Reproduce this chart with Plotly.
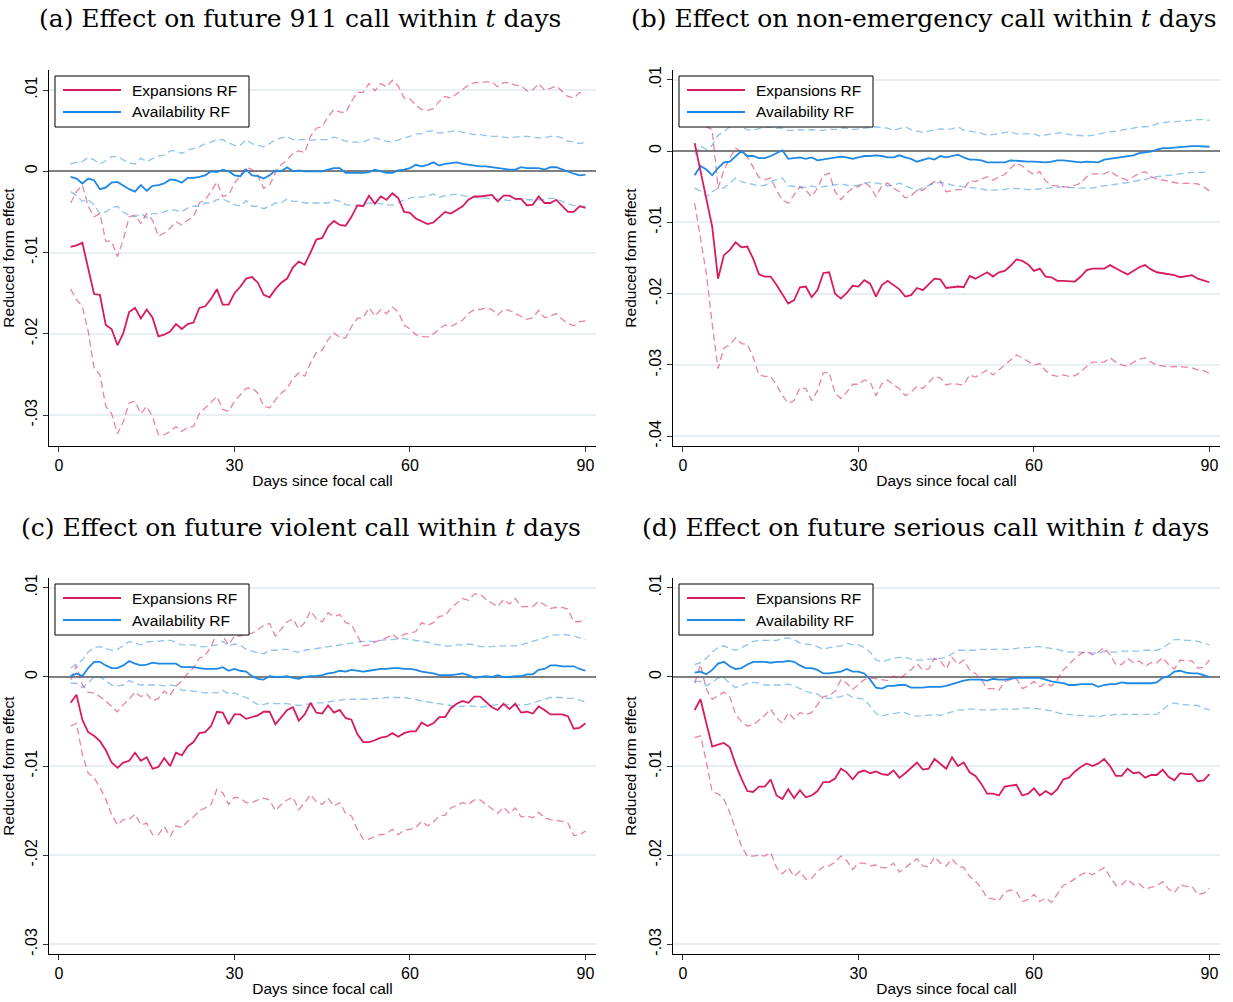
import plotly.graph_objects as go

# Horizon in days after the focal call (one estimate per day)
days = list(range(2, 91))
UNIT = 0.01  # all series below are written in hundredths

# ---------- (a) future 911 call ----------
a_exp = [-0.93, -0.91, -0.88, -1.21, -1.51, -1.52, -1.89, -1.94, -2.14, -1.99,
         -1.73, -1.68, -1.81, -1.70, -1.80, -2.03, -2.01, -1.97, -1.88, -1.94,
         -1.88, -1.86, -1.68, -1.66, -1.57, -1.45, -1.64, -1.64, -1.50, -1.42,
         -1.32, -1.30, -1.37, -1.52, -1.55, -1.45, -1.37, -1.32, -1.18, -1.11,
         -1.15, -1.00, -0.84, -0.82, -0.68, -0.61, -0.66, -0.67, -0.56, -0.42,
         -0.43, -0.30, -0.40, -0.31, -0.35, -0.27, -0.33, -0.50, -0.51, -0.58,
         -0.62, -0.65, -0.63, -0.56, -0.50, -0.52, -0.47, -0.43, -0.35, -0.31,
         -0.31, -0.30, -0.29, -0.37, -0.30, -0.30, -0.34, -0.34, -0.42, -0.41,
         -0.31, -0.39, -0.39, -0.35, -0.43, -0.50, -0.50, -0.43, -0.45]
a_exp_hi = [-0.39, -0.25, -0.17, -0.43, -0.56, -0.52, -0.86, -0.86, -1.05, -0.84,
            -0.56, -0.54, -0.64, -0.52, -0.60, -0.80, -0.76, -0.70, -0.62, -0.66,
            -0.60, -0.56, -0.39, -0.35, -0.25, -0.13, -0.31, -0.29, -0.15, -0.05,
            0.05, 0.02, -0.05, -0.21, -0.17, -0.02, 0.08, 0.14, 0.22, 0.25,
            0.23, 0.43, 0.53, 0.55, 0.67, 0.76, 0.73, 0.72, 0.86, 0.97,
            0.97, 1.08, 0.99, 1.08, 1.04, 1.12, 1.05, 0.90, 0.89, 0.81,
            0.76, 0.75, 0.77, 0.86, 0.92, 0.90, 0.95, 1.00, 1.06, 1.09,
            1.09, 1.10, 1.10, 1.04, 1.09, 1.09, 1.06, 1.05, 0.99, 1.00,
            1.08, 1.00, 1.02, 1.05, 0.98, 0.92, 0.90, 0.97, 0.96]
a_exp_lo = [-1.45, -1.58, -1.66, -1.97, -2.42, -2.50, -2.89, -2.98, -3.23, -3.08,
            -2.85, -2.83, -2.98, -2.89, -3.02, -3.24, -3.24, -3.20, -3.14, -3.20,
            -3.15, -3.14, -2.98, -2.91, -2.85, -2.77, -2.93, -2.95, -2.83, -2.75,
            -2.67, -2.66, -2.73, -2.89, -2.91, -2.81, -2.73, -2.67, -2.55, -2.48,
            -2.52, -2.36, -2.23, -2.20, -2.07, -1.99, -2.04, -2.05, -1.91, -1.81,
            -1.80, -1.68, -1.78, -1.70, -1.75, -1.67, -1.73, -1.89, -1.94, -2.01,
            -2.03, -2.04, -2.00, -1.94, -1.89, -1.91, -1.87, -1.83, -1.75, -1.70,
            -1.70, -1.68, -1.70, -1.77, -1.70, -1.71, -1.75, -1.78, -1.82, -1.80,
            -1.71, -1.80, -1.78, -1.75, -1.82, -1.87, -1.90, -1.85, -1.84]
a_avl = [-0.07, -0.09, -0.15, -0.09, -0.11, -0.22, -0.20, -0.14, -0.13, -0.18,
         -0.22, -0.25, -0.17, -0.24, -0.18, -0.17, -0.15, -0.10, -0.11, -0.14,
         -0.08, -0.08, -0.07, -0.05, 0.00, -0.01, 0.02, 0.00, -0.05, -0.06,
         0.02, -0.05, -0.06, -0.09, -0.05, 0.01, 0.00, 0.05, 0.00, 0.01,
         0.00, 0.00, 0.00, 0.00, 0.02, 0.04, 0.04, -0.02, -0.02, -0.02,
         -0.02, -0.01, 0.02, 0.00, -0.02, -0.02, 0.01, 0.02, 0.04, 0.08,
         0.06, 0.08, 0.11, 0.07, 0.09, 0.10, 0.11, 0.09, 0.08, 0.07,
         0.06, 0.06, 0.05, 0.04, 0.03, 0.02, 0.02, 0.05, 0.04, 0.04,
         0.04, 0.02, 0.05, 0.05, 0.02, -0.01, -0.03, -0.05, -0.04]
a_avl_hi = [0.09, 0.11, 0.12, 0.17, 0.14, 0.09, 0.13, 0.18, 0.18, 0.14,
            0.10, 0.09, 0.16, 0.12, 0.16, 0.19, 0.20, 0.25, 0.25, 0.22,
            0.26, 0.28, 0.30, 0.34, 0.36, 0.39, 0.39, 0.35, 0.32, 0.32,
            0.39, 0.34, 0.32, 0.30, 0.34, 0.39, 0.41, 0.43, 0.39, 0.39,
            0.39, 0.38, 0.39, 0.39, 0.39, 0.42, 0.40, 0.37, 0.36, 0.36,
            0.36, 0.39, 0.41, 0.39, 0.37, 0.36, 0.39, 0.41, 0.43, 0.46,
            0.46, 0.49, 0.50, 0.47, 0.48, 0.49, 0.50, 0.48, 0.47, 0.45,
            0.45, 0.44, 0.43, 0.43, 0.42, 0.41, 0.42, 0.43, 0.43, 0.42,
            0.41, 0.41, 0.43, 0.43, 0.41, 0.37, 0.36, 0.34, 0.36]
a_avl_lo = [-0.25, -0.30, -0.37, -0.35, -0.41, -0.52, -0.50, -0.45, -0.43, -0.50,
            -0.54, -0.56, -0.52, -0.57, -0.52, -0.52, -0.50, -0.47, -0.48, -0.50,
            -0.45, -0.43, -0.43, -0.39, -0.39, -0.35, -0.34, -0.37, -0.41, -0.43,
            -0.36, -0.43, -0.43, -0.46, -0.43, -0.39, -0.39, -0.34, -0.37, -0.37,
            -0.39, -0.39, -0.39, -0.39, -0.39, -0.35, -0.37, -0.41, -0.42, -0.42,
            -0.41, -0.39, -0.39, -0.40, -0.41, -0.42, -0.39, -0.35, -0.33, -0.31,
            -0.32, -0.30, -0.28, -0.32, -0.30, -0.29, -0.28, -0.30, -0.31, -0.32,
            -0.33, -0.33, -0.34, -0.34, -0.35, -0.36, -0.35, -0.34, -0.35, -0.35,
            -0.35, -0.35, -0.33, -0.34, -0.37, -0.40, -0.42, -0.43, -0.43]

# ---------- (b) non-emergency call ----------
b_exp = [0.11, -0.27, -0.69, -1.06, -1.79, -1.46, -1.39, -1.28, -1.35, -1.34,
         -1.51, -1.73, -1.76, -1.76, -1.88, -2.01, -2.14, -2.09, -1.91, -1.90,
         -2.05, -1.95, -1.71, -1.70, -2.00, -2.07, -1.99, -1.89, -1.90, -1.81,
         -1.86, -2.04, -1.88, -1.82, -1.88, -1.94, -2.04, -2.02, -1.92, -1.95,
         -1.87, -1.79, -1.80, -1.92, -1.91, -1.90, -1.91, -1.75, -1.79, -1.75,
         -1.70, -1.76, -1.70, -1.68, -1.61, -1.52, -1.54, -1.59, -1.68, -1.65,
         -1.76, -1.77, -1.82, -1.82, -1.82, -1.83, -1.76, -1.67, -1.65, -1.65,
         -1.65, -1.60, -1.65, -1.69, -1.73, -1.68, -1.63, -1.60, -1.66, -1.70,
         -1.71, -1.73, -1.74, -1.77, -1.76, -1.74, -1.79, -1.82, -1.84]
b_exp_hi = [0.95, 0.66, 0.34, 0.30, -0.52, -0.27, -0.10, 0.04, -0.01, -0.08,
            -0.22, -0.37, -0.40, -0.38, -0.55, -0.69, -0.73, -0.62, -0.50, -0.55,
            -0.64, -0.52, -0.34, -0.31, -0.57, -0.68, -0.59, -0.52, -0.50, -0.44,
            -0.50, -0.64, -0.49, -0.45, -0.52, -0.57, -0.66, -0.63, -0.55, -0.55,
            -0.48, -0.43, -0.42, -0.57, -0.55, -0.54, -0.54, -0.41, -0.43, -0.40,
            -0.36, -0.41, -0.36, -0.33, -0.24, -0.17, -0.21, -0.28, -0.33, -0.29,
            -0.42, -0.48, -0.49, -0.50, -0.51, -0.48, -0.45, -0.36, -0.32, -0.32,
            -0.32, -0.28, -0.34, -0.38, -0.41, -0.36, -0.31, -0.29, -0.36, -0.39,
            -0.41, -0.43, -0.44, -0.46, -0.45, -0.45, -0.46, -0.50, -0.56]
b_exp_lo = [-0.73, -1.20, -1.72, -2.42, -3.05, -2.76, -2.72, -2.62, -2.70, -2.71,
            -2.89, -3.14, -3.16, -3.16, -3.28, -3.43, -3.54, -3.50, -3.32, -3.33,
            -3.50, -3.36, -3.11, -3.10, -3.40, -3.47, -3.38, -3.27, -3.27, -3.21,
            -3.24, -3.43, -3.26, -3.21, -3.28, -3.33, -3.43, -3.38, -3.30, -3.33,
            -3.24, -3.16, -3.18, -3.28, -3.26, -3.27, -3.28, -3.14, -3.17, -3.12,
            -3.07, -3.14, -3.07, -2.99, -2.92, -2.86, -2.90, -2.95, -3.00, -2.98,
            -3.08, -3.14, -3.16, -3.14, -3.16, -3.15, -3.10, -3.02, -2.96, -2.96,
            -2.96, -2.90, -2.96, -3.00, -3.02, -2.96, -2.92, -2.90, -2.96, -3.00,
            -3.02, -3.03, -3.02, -3.02, -3.03, -3.04, -3.07, -3.08, -3.12]
b_avl = [-0.34, -0.21, -0.26, -0.34, -0.24, -0.16, -0.15, -0.07, 0.00, -0.07,
         -0.07, -0.10, -0.10, -0.07, -0.03, 0.01, -0.11, -0.10, -0.09, -0.11,
         -0.09, -0.13, -0.12, -0.10, -0.10, -0.08, -0.09, -0.11, -0.09, -0.07,
         -0.07, -0.06, -0.07, -0.09, -0.09, -0.06, -0.09, -0.11, -0.15, -0.13,
         -0.10, -0.12, -0.07, -0.09, -0.07, -0.05, -0.09, -0.12, -0.12, -0.13,
         -0.16, -0.16, -0.16, -0.16, -0.13, -0.14, -0.14, -0.15, -0.15, -0.16,
         -0.16, -0.15, -0.13, -0.13, -0.14, -0.16, -0.16, -0.15, -0.15, -0.16,
         -0.12, -0.11, -0.10, -0.09, -0.07, -0.06, -0.03, -0.02, -0.01, 0.02,
         0.04, 0.04, 0.05, 0.05, 0.06, 0.07, 0.07, 0.07, 0.06]
b_avl_hi = [-0.05, 0.07, 0.02, 0.08, 0.22, 0.27, 0.34, 0.37, 0.34, 0.30,
            0.29, 0.32, 0.34, 0.34, 0.32, 0.32, 0.29, 0.29, 0.30, 0.29,
            0.30, 0.29, 0.29, 0.31, 0.30, 0.32, 0.32, 0.30, 0.31, 0.33,
            0.34, 0.34, 0.33, 0.32, 0.29, 0.32, 0.34, 0.30, 0.28, 0.26,
            0.28, 0.29, 0.31, 0.30, 0.31, 0.34, 0.29, 0.28, 0.27, 0.25,
            0.22, 0.23, 0.24, 0.25, 0.27, 0.24, 0.24, 0.24, 0.24, 0.21,
            0.23, 0.24, 0.25, 0.26, 0.23, 0.22, 0.21, 0.21, 0.22, 0.24,
            0.26, 0.27, 0.28, 0.30, 0.31, 0.32, 0.34, 0.34, 0.35, 0.38,
            0.40, 0.41, 0.41, 0.42, 0.43, 0.44, 0.44, 0.44, 0.43]
b_avl_lo = [-0.52, -0.56, -0.64, -0.57, -0.52, -0.52, -0.45, -0.38, -0.43, -0.45,
            -0.48, -0.49, -0.48, -0.43, -0.40, -0.38, -0.49, -0.50, -0.51, -0.51,
            -0.49, -0.51, -0.50, -0.49, -0.48, -0.46, -0.48, -0.49, -0.48, -0.45,
            -0.44, -0.45, -0.46, -0.49, -0.48, -0.45, -0.49, -0.52, -0.55, -0.52,
            -0.48, -0.45, -0.44, -0.45, -0.48, -0.49, -0.49, -0.50, -0.51, -0.53,
            -0.55, -0.55, -0.55, -0.54, -0.52, -0.53, -0.54, -0.54, -0.54, -0.53,
            -0.52, -0.51, -0.50, -0.50, -0.51, -0.52, -0.52, -0.52, -0.52, -0.50,
            -0.49, -0.48, -0.46, -0.45, -0.44, -0.43, -0.41, -0.40, -0.37, -0.36,
            -0.34, -0.33, -0.32, -0.31, -0.31, -0.30, -0.30, -0.30, -0.30]

# ---------- (c) future violent call ----------
c_exp = [-0.29, -0.20, -0.48, -0.62, -0.66, -0.72, -0.82, -0.96, -1.02, -0.96,
         -0.94, -0.85, -0.94, -0.90, -1.03, -1.01, -0.91, -1.00, -0.85, -0.88,
         -0.78, -0.73, -0.63, -0.62, -0.55, -0.39, -0.40, -0.53, -0.42, -0.42,
         -0.47, -0.45, -0.43, -0.39, -0.39, -0.53, -0.45, -0.37, -0.34, -0.49,
         -0.42, -0.29, -0.40, -0.41, -0.32, -0.40, -0.37, -0.46, -0.48, -0.64,
         -0.73, -0.73, -0.71, -0.68, -0.67, -0.63, -0.67, -0.63, -0.61, -0.61,
         -0.51, -0.55, -0.52, -0.45, -0.45, -0.35, -0.30, -0.27, -0.29, -0.22,
         -0.22, -0.28, -0.34, -0.37, -0.30, -0.36, -0.30, -0.40, -0.39, -0.41,
         -0.33, -0.37, -0.42, -0.42, -0.42, -0.44, -0.58, -0.57, -0.52]
c_exp_hi = [-0.03, 0.13, -0.09, -0.17, -0.18, -0.22, -0.27, -0.33, -0.39, -0.31,
            -0.25, -0.17, -0.22, -0.19, -0.27, -0.24, -0.16, -0.21, -0.10, -0.05,
            0.04, 0.10, 0.21, 0.24, 0.34, 0.49, 0.46, 0.36, 0.46, 0.46,
            0.49, 0.49, 0.53, 0.58, 0.60, 0.46, 0.54, 0.62, 0.65, 0.54,
            0.61, 0.74, 0.65, 0.62, 0.72, 0.68, 0.70, 0.61, 0.59, 0.46,
            0.35, 0.36, 0.39, 0.42, 0.44, 0.48, 0.43, 0.48, 0.49, 0.51,
            0.61, 0.58, 0.61, 0.68, 0.69, 0.77, 0.83, 0.88, 0.86, 0.93,
            0.93, 0.87, 0.83, 0.79, 0.87, 0.82, 0.88, 0.79, 0.79, 0.79,
            0.85, 0.81, 0.77, 0.78, 0.78, 0.76, 0.62, 0.62, 0.66]
c_exp_lo = [-0.55, -0.52, -0.87, -1.08, -1.13, -1.24, -1.37, -1.54, -1.66, -1.60,
            -1.60, -1.54, -1.66, -1.64, -1.77, -1.77, -1.68, -1.79, -1.67, -1.69,
            -1.62, -1.57, -1.50, -1.47, -1.43, -1.26, -1.30, -1.43, -1.35, -1.36,
            -1.41, -1.41, -1.38, -1.36, -1.38, -1.50, -1.43, -1.38, -1.35, -1.49,
            -1.41, -1.32, -1.40, -1.43, -1.36, -1.45, -1.41, -1.53, -1.56, -1.71,
            -1.82, -1.82, -1.79, -1.77, -1.76, -1.71, -1.77, -1.72, -1.71, -1.69,
            -1.62, -1.67, -1.63, -1.56, -1.55, -1.47, -1.44, -1.41, -1.43, -1.38,
            -1.38, -1.43, -1.49, -1.53, -1.46, -1.53, -1.47, -1.57, -1.56, -1.58,
            -1.52, -1.58, -1.60, -1.61, -1.62, -1.64, -1.78, -1.77, -1.73]
c_avl = [0.01, 0.04, 0.01, 0.10, 0.17, 0.17, 0.13, 0.10, 0.10, 0.13,
         0.18, 0.15, 0.13, 0.14, 0.16, 0.15, 0.15, 0.15, 0.15, 0.11,
         0.11, 0.11, 0.10, 0.09, 0.09, 0.09, 0.11, 0.07, 0.09, 0.07,
         0.06, 0.01, -0.02, -0.03, 0.01, 0.00, 0.00, 0.01, -0.01, -0.02,
         0.00, 0.01, 0.01, 0.02, 0.04, 0.05, 0.07, 0.06, 0.08, 0.07,
         0.06, 0.07, 0.08, 0.09, 0.09, 0.10, 0.10, 0.09, 0.09, 0.08,
         0.06, 0.05, 0.04, 0.02, 0.02, 0.02, 0.03, 0.04, 0.02, -0.01,
         0.00, 0.01, 0.00, 0.02, 0.00, 0.00, 0.01, 0.01, 0.03, 0.03,
         0.08, 0.09, 0.13, 0.13, 0.12, 0.12, 0.12, 0.09, 0.07]
c_avl_hi = [0.10, 0.15, 0.19, 0.28, 0.33, 0.34, 0.32, 0.30, 0.31, 0.35,
            0.40, 0.38, 0.36, 0.39, 0.40, 0.40, 0.41, 0.41, 0.39, 0.36,
            0.36, 0.36, 0.34, 0.34, 0.35, 0.36, 0.40, 0.35, 0.37, 0.36,
            0.31, 0.29, 0.27, 0.26, 0.30, 0.30, 0.31, 0.31, 0.29, 0.28,
            0.30, 0.31, 0.32, 0.33, 0.34, 0.35, 0.36, 0.37, 0.38, 0.39,
            0.40, 0.40, 0.40, 0.41, 0.42, 0.42, 0.43, 0.43, 0.42, 0.41,
            0.40, 0.39, 0.37, 0.36, 0.35, 0.35, 0.36, 0.36, 0.37, 0.36,
            0.34, 0.34, 0.34, 0.35, 0.35, 0.35, 0.35, 0.36, 0.38, 0.40,
            0.42, 0.44, 0.47, 0.47, 0.48, 0.47, 0.46, 0.44, 0.42]
c_avl_lo = [-0.07, -0.07, -0.12, -0.07, 0.00, 0.00, -0.04, -0.09, -0.10, -0.09,
            -0.04, -0.07, -0.09, -0.09, -0.09, -0.09, -0.10, -0.09, -0.10, -0.15,
            -0.15, -0.16, -0.17, -0.18, -0.17, -0.18, -0.15, -0.19, -0.18, -0.21,
            -0.23, -0.27, -0.31, -0.31, -0.29, -0.30, -0.30, -0.30, -0.31, -0.32,
            -0.31, -0.30, -0.29, -0.29, -0.28, -0.27, -0.26, -0.25, -0.25, -0.25,
            -0.25, -0.25, -0.24, -0.24, -0.23, -0.23, -0.23, -0.23, -0.24, -0.25,
            -0.27, -0.28, -0.29, -0.30, -0.31, -0.32, -0.33, -0.33, -0.32, -0.33,
            -0.34, -0.33, -0.32, -0.31, -0.31, -0.31, -0.32, -0.31, -0.31, -0.29,
            -0.27, -0.25, -0.23, -0.23, -0.23, -0.24, -0.24, -0.26, -0.28]

# ---------- (d) future serious call ----------
d_exp = [-0.37, -0.25, -0.52, -0.78, -0.76, -0.74, -0.79, -0.98, -1.14, -1.28,
         -1.29, -1.23, -1.23, -1.15, -1.33, -1.37, -1.26, -1.36, -1.27, -1.35,
         -1.33, -1.28, -1.18, -1.18, -1.14, -1.03, -1.07, -1.15, -1.07, -1.05,
         -1.08, -1.06, -1.09, -1.10, -1.05, -1.13, -1.08, -1.02, -0.96, -1.04,
         -1.03, -0.92, -0.98, -1.03, -0.90, -1.00, -0.96, -1.07, -1.11, -1.20,
         -1.31, -1.31, -1.33, -1.23, -1.22, -1.21, -1.33, -1.31, -1.25, -1.33,
         -1.28, -1.32, -1.26, -1.15, -1.13, -1.06, -1.01, -0.97, -1.00, -0.97,
         -0.92, -1.00, -1.11, -1.11, -1.03, -1.08, -1.07, -1.13, -1.10, -1.10,
         -1.04, -1.12, -1.16, -1.08, -1.09, -1.09, -1.17, -1.16, -1.09]
d_exp_hi = [-0.07, 0.14, -0.14, -0.25, -0.21, -0.17, -0.22, -0.42, -0.50, -0.55,
            -0.54, -0.49, -0.43, -0.36, -0.46, -0.52, -0.40, -0.47, -0.40, -0.42,
            -0.40, -0.31, -0.22, -0.21, -0.16, -0.03, -0.07, -0.14, -0.09, -0.03,
            -0.01, -0.02, -0.03, -0.04, 0.01, -0.02, 0.03, 0.08, 0.15, 0.08,
            0.09, 0.21, 0.18, 0.09, 0.22, 0.14, 0.19, 0.08, 0.04, -0.03,
            -0.13, -0.13, -0.15, -0.05, -0.03, -0.02, -0.13, -0.10, -0.05, -0.11,
            -0.07, -0.10, -0.03, 0.08, 0.14, 0.21, 0.26, 0.29, 0.25, 0.28,
            0.33, 0.25, 0.14, 0.14, 0.21, 0.16, 0.18, 0.12, 0.16, 0.16,
            0.22, 0.14, 0.09, 0.19, 0.18, 0.18, 0.10, 0.11, 0.19]
d_exp_lo = [-0.68, -0.66, -0.95, -1.29, -1.31, -1.37, -1.52, -1.71, -1.90, -2.01,
            -2.01, -2.00, -2.01, -1.97, -2.14, -2.21, -2.14, -2.24, -2.18, -2.27,
            -2.26, -2.18, -2.13, -2.12, -2.08, -2.01, -2.06, -2.16, -2.09, -2.09,
            -2.12, -2.11, -2.14, -2.14, -2.09, -2.19, -2.14, -2.08, -2.04, -2.12,
            -2.13, -2.02, -2.09, -2.12, -2.04, -2.12, -2.14, -2.24, -2.29, -2.37,
            -2.48, -2.49, -2.51, -2.42, -2.39, -2.41, -2.52, -2.50, -2.44, -2.52,
            -2.48, -2.53, -2.44, -2.34, -2.31, -2.26, -2.22, -2.19, -2.22, -2.18,
            -2.14, -2.24, -2.34, -2.33, -2.27, -2.33, -2.32, -2.38, -2.36, -2.34,
            -2.30, -2.38, -2.42, -2.33, -2.35, -2.35, -2.44, -2.43, -2.37]
d_avl = [0.05, 0.06, 0.03, 0.08, 0.15, 0.17, 0.12, 0.09, 0.10, 0.14,
         0.17, 0.17, 0.17, 0.16, 0.17, 0.17, 0.18, 0.17, 0.13, 0.10,
         0.10, 0.08, 0.04, 0.04, 0.05, 0.06, 0.09, 0.06, 0.06, 0.04,
         -0.03, -0.12, -0.13, -0.10, -0.10, -0.09, -0.09, -0.12, -0.12, -0.12,
         -0.11, -0.11, -0.11, -0.10, -0.08, -0.06, -0.04, -0.03, -0.03, -0.03,
         -0.04, -0.02, -0.03, -0.03, -0.02, -0.01, -0.01, -0.01, -0.01, -0.01,
         -0.03, -0.05, -0.06, -0.07, -0.09, -0.09, -0.08, -0.08, -0.08, -0.11,
         -0.09, -0.08, -0.08, -0.06, -0.07, -0.07, -0.07, -0.07, -0.07, -0.06,
         -0.01, 0.01, 0.06, 0.07, 0.05, 0.04, 0.04, 0.02, 0.00]
d_avl_hi = [0.14, 0.16, 0.21, 0.28, 0.33, 0.35, 0.32, 0.30, 0.33, 0.36,
            0.40, 0.41, 0.41, 0.41, 0.41, 0.43, 0.44, 0.42, 0.38, 0.37,
            0.36, 0.34, 0.31, 0.33, 0.34, 0.35, 0.38, 0.36, 0.36, 0.33,
            0.28, 0.19, 0.17, 0.19, 0.21, 0.22, 0.22, 0.20, 0.19, 0.19,
            0.20, 0.20, 0.21, 0.22, 0.26, 0.30, 0.30, 0.30, 0.30, 0.31,
            0.31, 0.31, 0.31, 0.31, 0.31, 0.32, 0.33, 0.33, 0.34, 0.34,
            0.33, 0.32, 0.31, 0.29, 0.28, 0.28, 0.28, 0.27, 0.27, 0.26,
            0.29, 0.28, 0.28, 0.29, 0.29, 0.29, 0.29, 0.30, 0.30, 0.30,
            0.33, 0.37, 0.42, 0.42, 0.41, 0.41, 0.40, 0.38, 0.36]
d_avl_lo = [-0.05, -0.05, -0.10, -0.06, -0.01, -0.01, -0.07, -0.12, -0.10, -0.07,
            -0.06, -0.07, -0.09, -0.09, -0.09, -0.09, -0.08, -0.10, -0.13, -0.16,
            -0.18, -0.19, -0.24, -0.24, -0.23, -0.22, -0.19, -0.23, -0.24, -0.25,
            -0.33, -0.41, -0.44, -0.42, -0.41, -0.40, -0.40, -0.43, -0.44, -0.43,
            -0.43, -0.42, -0.43, -0.41, -0.39, -0.37, -0.37, -0.36, -0.36, -0.37,
            -0.37, -0.37, -0.36, -0.36, -0.36, -0.36, -0.35, -0.35, -0.35, -0.36,
            -0.37, -0.38, -0.40, -0.42, -0.42, -0.43, -0.43, -0.44, -0.44, -0.45,
            -0.43, -0.43, -0.42, -0.42, -0.42, -0.42, -0.42, -0.42, -0.42, -0.42,
            -0.37, -0.31, -0.29, -0.31, -0.31, -0.32, -0.32, -0.35, -0.37]

# Axis ticks
x_ticks = [0, 30, 60, 90]
x_tick_text = ["0", "30", "60", "90"]
y_ticks_short = [0.01, 0.0, -0.01, -0.02, -0.03]
y_text_short = [".01", "0", "-.01", "-.02", "-.03"]
y_ticks_long = [0.01, 0.0, -0.01, -0.02, -0.03, -0.04]
y_text_long = [".01", "0", "-.01", "-.02", "-.03", "-.04"]

legend_labels = ["Expansions RF", "Availability RF"]
panel_titles = [
    "(a) Effect on future 911 call within <i>t</i> days",
    "(b) Effect on non-emergency call within <i>t</i> days",
    "(c) Effect on future violent call within <i>t</i> days",
    "(d) Effect on future serious call within <i>t</i> days",
]

W, H = 1233, 1002
RED = "#d81b60"
BLUE = "#1e88e5"
RED_CI = "rgba(216,27,96,0.55)"
BLUE_CI = "rgba(30,136,229,0.50)"
SANS = "Liberation Sans, Arial, sans-serif"
SERIF = "DejaVu Serif, serif"


def px(x):
    return x / W


def py(y):
    return 1 - y / H


# plot-area geometry per panel: (left, right, top, bottom) in pixels, y-range
panels = [
    dict(series=(a_exp, a_exp_hi, a_exp_lo, a_avl, a_avl_hi, a_avl_lo),
         box=(49, 596, 70, 446), yrange=[-0.03379, 0.01246],
         yt=(y_ticks_short, y_text_short), title_xy=(300, 18)),
    dict(series=(b_exp, b_exp_hi, b_exp_lo, b_avl, b_avl_hi, b_avl_lo),
         box=(673, 1220, 70, 446), yrange=[-0.04136, 0.01136],
         yt=(y_ticks_long, y_text_long), title_xy=(924, 18)),
    dict(series=(c_exp, c_exp_hi, c_exp_lo, c_avl, c_avl_hi, c_avl_lo),
         box=(49, 596, 578, 954), yrange=[-0.03109, 0.01111],
         yt=(y_ticks_short, y_text_short), title_xy=(301, 527)),
    dict(series=(d_exp, d_exp_hi, d_exp_lo, d_avl, d_avl_hi, d_avl_lo),
         box=(673, 1220, 578, 954), yrange=[-0.03109, 0.01111],
         yt=(y_ticks_short, y_text_short), title_xy=(925, 527)),
]

for p in panels:
    for s in p["series"]:
        assert len(s) == len(days)

fig = go.Figure()
layout = dict(
    width=W, height=H, autosize=False,
    margin=dict(l=0, r=0, t=0, b=0),
    paper_bgcolor="white", plot_bgcolor="white",
    template="none", showlegend=False,
)
shapes, annotations = [], []
dash_pat = "7px,4px"

for i, p in enumerate(panels):
    n = "" if i == 0 else str(i + 1)
    xa, ya = "x" + n, "y" + n
    exp, exp_hi, exp_lo, avl, avl_hi, avl_lo = [[v * UNIT for v in s] for s in p["series"]]

    # confidence bands (dashed), then point estimates (solid)
    for vals, col in ((avl_hi, BLUE_CI), (avl_lo, BLUE_CI), (exp_hi, RED_CI), (exp_lo, RED_CI)):
        fig.add_trace(go.Scatter(x=days, y=vals, mode="lines", xaxis=xa, yaxis=ya,
                                 line=dict(color=col, width=1.3, dash=dash_pat),
                                 hoverinfo="skip"))
    fig.add_trace(go.Scatter(x=days, y=avl, mode="lines", xaxis=xa, yaxis=ya,
                             name=legend_labels[1], line=dict(color=BLUE, width=1.8)))
    fig.add_trace(go.Scatter(x=days, y=exp, mode="lines", xaxis=xa, yaxis=ya,
                             name=legend_labels[0], line=dict(color=RED, width=1.8)))

    l, r, t, b = p["box"]
    layout["xaxis" + n] = dict(
        domain=[px(l), px(r)], anchor=ya, range=[-1.7, 91.8],
        tickmode="array", tickvals=x_ticks, ticktext=x_tick_text,
        showline=True, linecolor="black", linewidth=1,
        ticks="outside", ticklen=5, tickcolor="#333", tickwidth=1,
        showgrid=False, zeroline=False, automargin=False,
        tickfont=dict(family=SANS, size=16, color="black"),
        title=dict(text="Days since focal call", standoff=1,
                   font=dict(family=SANS, size=15.5, color="black")),
    )
    layout["yaxis" + n] = dict(
        domain=[py(b), py(t)], anchor=xa, range=p["yrange"],
        tickmode="array", tickvals=p["yt"][0], ticktext=p["yt"][1], tickangle=-90,
        showline=True, linecolor="black", linewidth=1,
        ticks="outside", ticklen=5, tickcolor="#333", tickwidth=1,
        showgrid=True, gridcolor="#e8eff2", gridwidth=1.5,
        zeroline=True, zerolinecolor="#7f7f7f", zerolinewidth=1.5,
        automargin=False,
        tickfont=dict(family=SANS, size=16, color="black"),
        title=dict(text="Reduced form effect", standoff=6,
                   font=dict(family=SANS, size=15.5, color="black")),
    )

    # panel title
    tx, ty = p["title_xy"]
    annotations.append(dict(text=panel_titles[i], x=px(tx), y=py(ty), xref="paper", yref="paper",
                            xanchor="center", yanchor="middle", showarrow=False,
                            font=dict(family=SERIF, size=25, color="black")))

    # legend box in the upper-left corner of each panel
    lx0 = l + 6
    ly0 = t + 6
    lx1, ly1 = lx0 + 194, ly0 + 51
    shapes.append(dict(type="rect", xref="paper", yref="paper", layer="above",
                       x0=px(lx0), x1=px(lx1), y0=py(ly0), y1=py(ly1),
                       line=dict(color="black", width=1), fillcolor="white"))
    for k, (col, lab) in enumerate(((RED, legend_labels[0]), (BLUE, legend_labels[1]))):
        yy = ly0 + 14 + 22 * k
        shapes.append(dict(type="line", xref="paper", yref="paper", layer="above",
                           x0=px(lx0 + 8), x1=px(lx0 + 66), y0=py(yy), y1=py(yy),
                           line=dict(color=col, width=1.8)))
        annotations.append(dict(text=lab, x=px(lx0 + 75), y=py(yy), xref="paper", yref="paper",
                                xanchor="left", yanchor="middle", showarrow=False,
                                font=dict(family=SANS, size=15.5, color="black")))

layout["shapes"] = shapes
layout["annotations"] = annotations
fig.update_layout(**layout)
fig.write_html("out.html")
